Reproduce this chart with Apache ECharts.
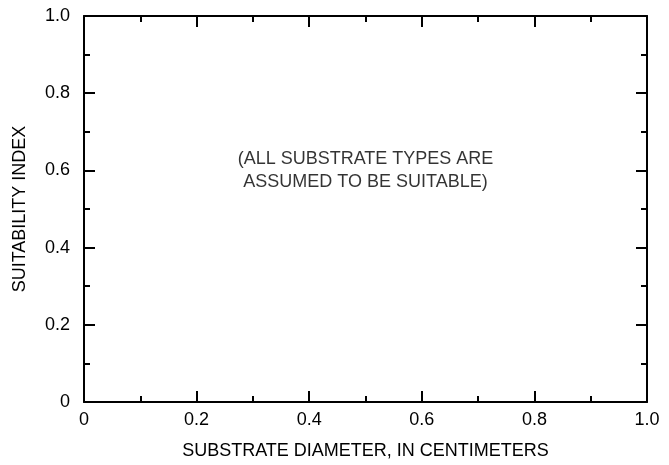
<!DOCTYPE html>
<html>
<head>
<meta charset="utf-8">
<script src="https://cdn.jsdelivr.net/npm/echarts@6/dist/echarts.min.js"></script>
<style>
html,body{margin:0;padding:0;background:#fff;}
#chart{width:669px;height:465px;}
</style>
</head>
<body>
<div id="chart"></div>
<script>
var xTickLabels = ['0', '0.2', '0.4', '0.6', '0.8', '1.0'];
var yTickLabels = ['0', '0.2', '0.4', '0.6', '0.8', '1.0'];
var xTitle = 'SUBSTRATE DIAMETER, IN CENTIMETERS';
var yTitle = 'SUITABILITY INDEX';
var noteLines = ['(ALL SUBSTRATE TYPES ARE', 'ASSUMED TO BE SUITABLE)'];
var notePosition = [0.5, 0.6];

var FONT = 'Liberation Sans, Arial, sans-serif';
var FS = 18;
function fmt(labels) {
  return function (v) { return labels[Math.round(v / 0.2)]; };
}
function axisBase(extra) {
  var base = {
    type: 'value', min: 0, max: 1, interval: 0.2,
    axisLine: { show: true, onZero: false, lineStyle: { color: '#000', width: 2 } },
    axisTick: { show: true, inside: true, length: 11, lineStyle: { color: '#000', width: 2 } },
    minorTick: { show: true, splitNumber: 2, length: 6, lineStyle: { color: '#000', width: 2 } },
    splitLine: { show: false },
    minorSplitLine: { show: false }
  };
  for (var k in extra) base[k] = extra[k];
  return base;
}
var chart = echarts.init(document.getElementById('chart'), null, { renderer: 'canvas' });
chart.setOption({
  animation: false,
  backgroundColor: '#fff',
  grid: { left: 84, right: 22, top: 16, bottom: 59, containLabel: false },
  xAxis: [
    axisBase({
      position: 'bottom',
      name: xTitle, nameLocation: 'middle', nameGap: 40,
      nameTextStyle: { color: '#000', fontFamily: FONT, fontSize: FS },
      axisLabel: { color: '#000', fontFamily: FONT, fontSize: FS, margin: 9, formatter: fmt(xTickLabels) }
    }),
    axisBase({ position: 'top', axisLabel: { show: false } })
  ],
  yAxis: [
    axisBase({
      position: 'left',
      name: yTitle, nameLocation: 'middle', nameGap: 55, nameRotate: 90,
      nameTextStyle: { color: '#000', fontFamily: FONT, fontSize: FS },
      axisLabel: { color: '#000', fontFamily: FONT, fontSize: FS, margin: 14, formatter: fmt(yTickLabels) }
    }),
    axisBase({ position: 'right', axisLabel: { show: false } })
  ],
  series: [{
    type: 'scatter',
    xAxisIndex: 0, yAxisIndex: 0,
    symbolSize: 0,
    data: [notePosition],
    label: {
      show: true, position: 'inside',
      formatter: noteLines.join('\n'),
      color: '#000', fontFamily: FONT, fontSize: FS, lineHeight: 23, align: 'center'
    },
    silent: true
  }]
});
</script>
</body>
</html>
